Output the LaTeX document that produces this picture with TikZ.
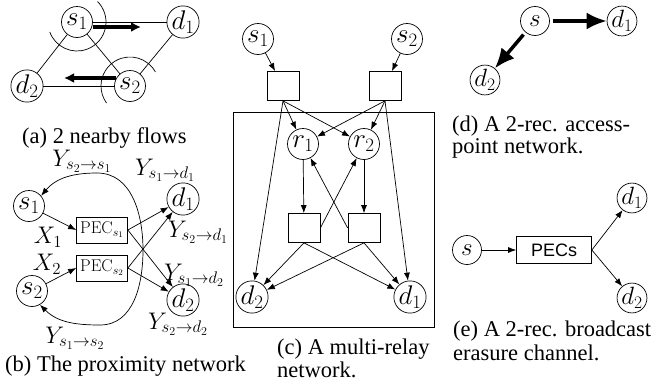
\RequirePackage{fix-cm}
\documentclass[tikz,border=0pt]{standalone}
\usepackage[no-math]{fontspec}
\setmainfont{Liberation Serif}
\newfontfamily\sansf{Liberation Sans}
\usetikzlibrary{arrows.meta}
\begin{document}
\begin{tikzpicture}[x=1pt,y=1pt,
  every node/.style={font=\fontsize{24}{24}\selectfont},
  nd/.style={draw,circle,minimum size=31pt,inner sep=0pt,line width=0.7pt,font=\fontsize{27}{27}\selectfont},
  ndsm/.style={draw,circle,minimum size=29pt,inner sep=0pt,line width=0.7pt,font=\fontsize{25}{25}\selectfont},
  pecbox/.style={draw,rectangle,minimum width=51pt,minimum height=26pt,inner sep=0pt,line width=0.7pt,font=\fontsize{17}{17}\selectfont},
  sqbox/.style={draw,rectangle,minimum width=32pt,minimum height=29pt,inner sep=0pt,line width=0.7pt},
  ln/.style={line width=0.7pt},
  ar/.style={-{Latex[length=8pt,width=6pt]},line width=0.7pt},
  thk/.style={-{Latex[length=10pt,width=10pt]},line width=4.5pt},
  bigar/.style={-{Latex[length=20pt,width=17pt]},line width=3.5pt,shorten <=3pt},
  lbl/.style={inner sep=0pt},
  captxt/.style={anchor=west,inner sep=0pt,font=\fontsize{22.5}{22}\selectfont}
]
\useasboundingbox (0,0) rectangle (672,-383);

% ---------- (a)
\node[nd] (as1) at (77,-22) {$s_1$};
\node[nd] (ad1) at (183,-22) {$d_1$};
\node[nd] (ad2) at (27,-86) {$d_2$};
\node[nd] (as2) at (130,-86) {$s_2$};
\draw[ln] (as1) -- (ad1);
\draw[ln] (as1) -- (ad2);
\draw[ln] (as1) -- (as2);
\draw[ln] (ad1) -- (as2);
\draw[ln] (ad2) -- (as2);
\coordinate (aa1) at (93,-27);
\coordinate (aa2) at (141,-27);
\coordinate (ab1) at (116,-78);
\coordinate (ab2) at (64,-78);
\draw[thk] (aa1) -- (aa2);
\draw[thk] (ab1) -- (ab2);
\draw[ln] (as1) ++(-160:29) arc[start angle=-160,end angle=45,radius=29];
\draw[ln] (as2) ++(29:29) arc[start angle=29,end angle=216,radius=29];
\node[captxt] (capa) at (22,-138) {(a) 2 nearby flows};

% ---------- (b)
\node[nd] (bs1) at (29,-206) {$s_1$};
\node[nd] (bs2) at (32,-291) {$s_2$};
\node[nd] (bd1) at (183,-199) {$d_1$};
\node[nd] (bd2) at (183,-300) {$d_2$};
\node[pecbox] (bp1) at (102,-230) {$\mathrm{PEC}_{s_1}$};
\node[pecbox] (bp2) at (102,-268) {$\mathrm{PEC}_{s_2}$};
\draw[ar] (bs1) -- (bp1.west);
\draw[ar] (bs2) -- (bp2.west);
\draw[ar] (bp1.east) -- (bd1);
\draw[ar] (bp1.east) -- (bd2);
\draw[ar] (bp2.east) -- (bd1);
\draw[ar] (bp2.east) -- (bd2);
\coordinate (bt) at (97,-173);
\coordinate (br) at (143,-250);
\coordinate (bb) at (100,-325);
\draw[ln,{Latex[length=8pt,width=6pt]}-{Latex[length=8pt,width=6pt]}] (bs1.40) to[out=50,in=180] (bt) to[out=0,in=90] (br) to[out=-90,in=0] (bb) to[out=180,in=-45] (bs2.-60);
\node[lbl] (lss) at (82,-161) {$Y_{s_2\to s_1}$};
\node[lbl] (lsd1) at (165,-170) {$Y_{s_1\to d_1}$};
\node[lbl] (lx1) at (48,-237) {$X_1$};
\node[lbl] (lx2) at (47,-264) {$X_2$};
\node[lbl] (l2d1) at (198,-232) {$Y_{s_2\to d_1}$};
\node[lbl] (l1d2) at (194,-275) {$Y_{s_1\to d_2}$};
\node[lbl] (l2d2) at (178,-324) {$Y_{s_2\to d_2}$};
\node[lbl] (l12) at (75,-338) {$Y_{s_1\to s_2}$};
\node[captxt] (capb) at (5,-366) {(b) The proximity network};

% ---------- (c)
\draw[ln] (233,-112) rectangle (434,-327);
\node[nd] (cs1) at (258,-39) {$s_1$};
\node[nd] (cs2) at (407,-39) {$s_2$};
\node[sqbox] (cb1) at (283,-86) {};
\node[sqbox] (cb2) at (385,-86) {};
\node[nd] (cr1) at (303,-144) {$r_1$};
\node[nd] (cr2) at (364,-144) {$r_2$};
\node[sqbox] (cl1) at (304,-228) {};
\node[sqbox] (cl2) at (364,-228) {};
\node[nd] (cd2) at (252,-297) {$d_2$};
\node[nd] (cd1) at (410,-297) {$d_1$};
\draw[ar] (cs1) -- (cb1);
\draw[ar] (cs2) -- (cb2);
\draw[ar] (cb1.south) -- (cr1);
\draw[ar] (cb1.south) -- (cr2);
\draw[ar] (cb1.south) -- (cd2);
\draw[ar] (cb2.south) -- (cr1);
\draw[ar] (cb2.south) -- (cr2);
\draw[ar] (cb2.south) -- (cd1);
\draw[ar] (cr1) -- (cl1);
\draw[ar] (cr2) -- (cl2);
\draw[ar] (cl1.east) -- (cr2);
\draw[ar] (cl2.west) -- (cr1);
\draw[ar] (cl1.south) -- (cd2);
\draw[ar] (cl1.south) -- (cd1);
\draw[ar] (cl2.south) -- (cd2);
\draw[ar] (cl2.south) -- (cd1);
\node[captxt] (capc1) at (277,-349) {(c) A multi-relay};
\node[captxt] (capc2) at (277,-370) {network.};

% ---------- (d)
\node[ndsm] (ds) at (535,-21) {$s$};
\node[ndsm] (dd1) at (622,-21) {$d_1$};
\node[ndsm] (dd2) at (485,-80) {$d_2$};
\draw[bigar] (ds) -- (dd1);
\draw[bigar] (ds) -- (dd2);
\node[captxt] (capd1) at (452,-126) {(d) A 2-rec. access-};
\node[captxt] (capd2) at (452,-148) {point network.};

% ---------- (e)
\node[ndsm] (es) at (467,-250) {$s$};
\node[draw,rectangle,minimum width=75pt,minimum height=27pt,inner sep=0pt,line width=0.7pt,font=\sansf\fontsize{18}{18}\selectfont] (ep) at (554,-250) {PECs};
\node[ndsm] (ed1) at (632,-198) {$d_1$};
\node[ndsm] (ed2) at (632,-298) {$d_2$};
\draw[ar] (es) -- (ep);
\draw[ar] (ep.east) -- (ed1);
\draw[ar] (ep.east) -- (ed2);
\node[captxt] (cape1) at (453,-331) {(e) A 2-rec. broadcast};
\node[captxt] (cape2) at (453,-353) {erasure channel.};
\end{tikzpicture}
\end{document}
